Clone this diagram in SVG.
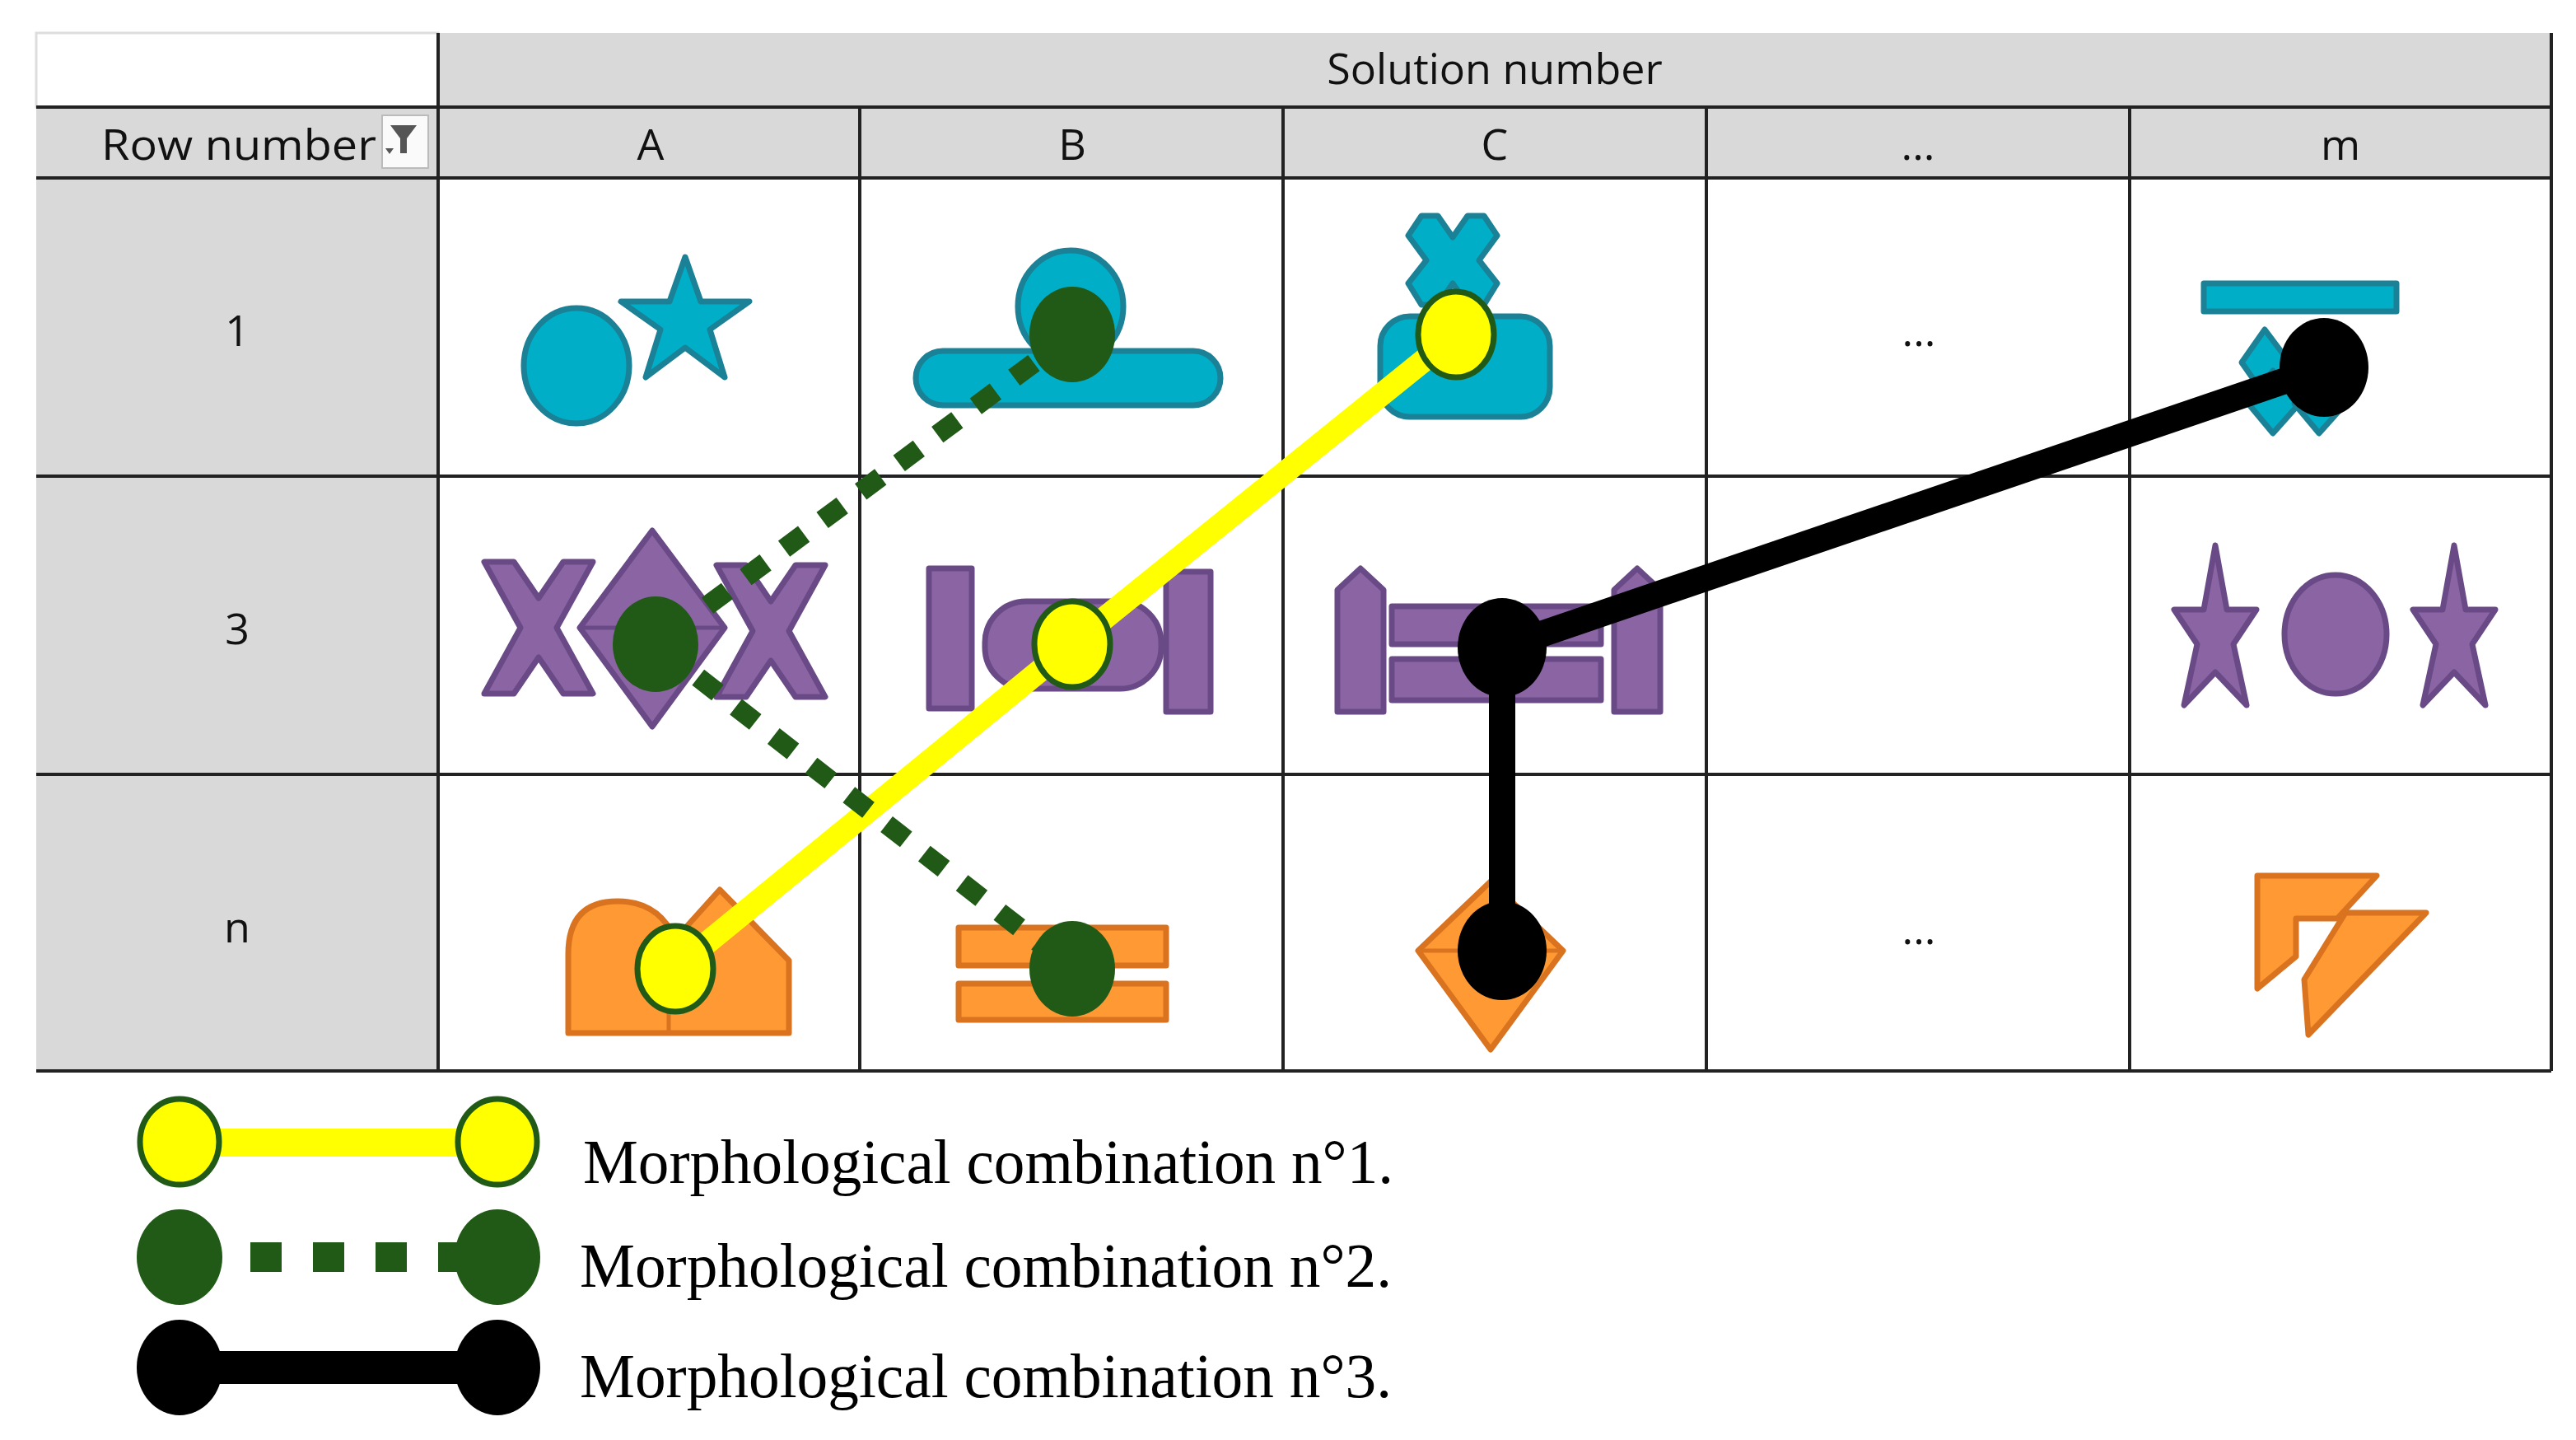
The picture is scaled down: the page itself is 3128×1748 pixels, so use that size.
<svg xmlns="http://www.w3.org/2000/svg" width="3128" height="1748" viewBox="0 0 3128 1748">
<style>
.hd{font-family:"Open Sans","Liberation Sans",sans-serif;font-size:52px;fill:#111;text-anchor:middle}
.lg{font-family:"Liberation Serif",serif;font-size:76px;fill:#000}
.teal{fill:#00AEC7;stroke:#1A8196;stroke-width:7;stroke-linejoin:round}
.pur{fill:#8B64A4;stroke:#6A4A86;stroke-width:7;stroke-linejoin:round}
.org{fill:#FF9933;stroke:#D9731F;stroke-width:7;stroke-linejoin:round}
.grid{stroke:#222;stroke-width:4}
.ylw{fill:#FFFF00;stroke:#215A17;stroke-width:7}
.grn{fill:#215A17}
.blk{fill:#000}
</style>
<rect width="3128" height="1748" fill="#fff"/>
<g id="table">
<rect x="532" y="40" width="2566" height="90" fill="#D9D9D9"/>
<rect x="44" y="130" width="3054" height="86" fill="#D9D9D9"/>
<rect x="44" y="216" width="488" height="1084" fill="#D9D9D9"/>
<rect x="44" y="40" width="488" height="90" fill="#fff" stroke="#ddd" stroke-width="3"/>
<g class="grid">
<line x1="44" y1="130" x2="3098" y2="130"/><line x1="44" y1="216" x2="3098" y2="216"/>
<line x1="44" y1="578" x2="3098" y2="578"/><line x1="44" y1="940" x2="3098" y2="940"/>
<line x1="44" y1="1300" x2="3098" y2="1300"/>
<line x1="532" y1="40" x2="532" y2="1300"/><line x1="1044" y1="130" x2="1044" y2="1300"/>
<line x1="1558" y1="130" x2="1558" y2="1300"/><line x1="2072" y1="130" x2="2072" y2="1300"/>
<line x1="2586" y1="130" x2="2586" y2="1300"/><line x1="3098" y1="40" x2="3098" y2="1300"/>
</g>
<text class="hd" x="1815" y="102">Solution number</text>
<text class="hd" x="290" y="194" textLength="334" lengthAdjust="spacingAndGlyphs">Row number</text>
<g id="filter"><rect x="464" y="140" width="56" height="64" fill="#fafafa" stroke="#bbb" stroke-width="2"/><path d="M474,152 H506 L494,168 V186 H486 V168 Z" fill="#555"/><path d="M468,180 h10 l-5,7z" fill="#555"/></g>
<text class="hd" x="790" y="194">A</text><text class="hd" x="1302" y="194">B</text>
<text class="hd" x="1815" y="194">C</text><text class="hd" x="2329" y="194">...</text>
<text class="hd" x="2842" y="194">m</text>
<text class="hd" x="288" y="420">1</text><text class="hd" x="288" y="782">3</text><text class="hd" x="288" y="1144">n</text>
<text class="hd" x="2330" y="420">...</text><text class="hd" x="2330" y="1146">...</text>
</g>
<g id="shapes">
<ellipse class="teal" cx="700" cy="444" rx="64" ry="70"/>
<polygon class="teal" points="832,312 851,366 910,366 862,400 880,458 832,422 784,458 802,400 754,366 813,366"/>
<ellipse class="teal" cx="1300" cy="372" rx="64" ry="68"/>
<rect class="teal" x="1112" y="426" width="370" height="66" rx="33"/>
<path class="teal" d="M1726,262 L1746,262 L1764,288 L1782,262 L1802,262 L1818,286 L1796,316 L1818,344 L1802,370 L1782,370 L1764,344 L1746,370 L1726,370 L1710,344 L1732,316 L1710,286 Z"/>
<rect class="teal" x="1676" y="384" width="206" height="122" rx="36"/>
<rect class="teal" x="2676" y="344" width="234" height="34"/>
<polygon class="teal" points="2750,400 2780,440 2750,480 2722,440"/>
<polygon class="teal" points="2760,450 2792,490 2760,526 2730,490"/>
<polygon class="teal" points="2816,450 2848,490 2816,526 2786,490"/>
<polygon class="pur" points="588,682 624,682 654,726 684,682 720,682 676,762 720,842 684,842 654,798 624,842 588,842 632,762"/>
<polygon class="pur" points="870,686 906,686 936,730 966,686 1002,686 958,766 1002,846 966,846 936,802 906,846 870,846 914,766"/>
<polygon class="pur" points="792,644 880,762 792,882 704,762"/>
<line x1="704" y1="762" x2="880" y2="762" stroke="#6A4A86" stroke-width="5"/>
<rect class="pur" x="1128" y="690" width="52" height="170"/>
<rect class="pur" x="1416" y="694" width="54" height="170"/>
<rect class="pur" x="1196" y="730" width="214" height="106" rx="50"/>
<polygon class="pur" points="1624,864 1624,716 1652,690 1680,716 1680,864"/>
<polygon class="pur" points="1960,864 1960,716 1988,690 2016,716 2016,864"/>
<rect class="pur" x="1690" y="736" width="254" height="46"/>
<rect class="pur" x="1690" y="800" width="254" height="50"/>
<polygon class="pur" points="2690,662 2704,740 2740,740 2712,782 2728,856 2690,816 2652,856 2668,782 2640,740 2676,740"/>
<ellipse class="pur" cx="2836" cy="770" rx="62" ry="72"/>
<polygon class="pur" points="2980,662 2994,740 3030,740 3002,782 3018,856 2980,816 2942,856 2958,782 2930,740 2966,740"/>
<path class="org" d="M690,1254 V1158 Q690,1094 750,1094 Q800,1094 820,1140 L874,1080 L958,1166 V1254 Z"/>
<line x1="812" y1="1210" x2="812" y2="1254" stroke="#D9731F" stroke-width="5"/>
<rect class="org" x="1164" y="1126" width="252" height="46"/>
<rect class="org" x="1164" y="1194" width="252" height="44"/>
<polygon class="org" points="1810,1070 1898,1154 1810,1274 1722,1154"/>
<line x1="1722" y1="1154" x2="1898" y2="1154" stroke="#D9731F" stroke-width="5"/>
<polygon class="org" points="2741,1063 2886,1063 2838,1115 2788,1115 2788,1161 2741,1200"/>
<polygon class="org" points="2848,1108 2946,1108 2803,1256 2798,1189"/>
</g>
<g id="connectors" fill="none">
<polyline points="820,1176 1302,782 1768,406" stroke="#FFFF00" stroke-width="28"/>
<polyline points="1302,406 796,782 1302,1176" stroke="#215A17" stroke-width="24" stroke-dasharray="30 28"/>
<polyline points="2822,446 1824,786 1824,1154" stroke="#000" stroke-width="32" stroke-linejoin="round"/>
</g>
<g id="markers">
<ellipse class="ylw" cx="820" cy="1176" rx="46" ry="52"/>
<ellipse class="ylw" cx="1302" cy="782" rx="46" ry="52"/>
<ellipse class="ylw" cx="1768" cy="406" rx="46" ry="52"/>
<ellipse class="grn" cx="1302" cy="406" rx="52" ry="58"/>
<ellipse class="grn" cx="796" cy="782" rx="52" ry="58"/>
<ellipse class="grn" cx="1302" cy="1176" rx="52" ry="58"/>
<ellipse class="blk" cx="2822" cy="446" rx="54" ry="60"/>
<ellipse class="blk" cx="1824" cy="786" rx="54" ry="60"/>
<ellipse class="blk" cx="1824" cy="1154" rx="54" ry="60"/>
</g>
<g id="legend">
<rect x="218" y="1370" width="386" height="34" fill="#FFFF00"/>
<ellipse class="ylw" cx="218" cy="1386" rx="48" ry="52"/>
<ellipse class="ylw" cx="604" cy="1386" rx="48" ry="52"/>
<text class="lg" x="708" y="1436" textLength="984" lengthAdjust="spacingAndGlyphs">Morphological combination n°1.</text>
<line x1="218" y1="1526" x2="604" y2="1526" stroke="#215A17" stroke-width="36" stroke-dasharray="38 38" stroke-dashoffset="-10"/>
<ellipse class="grn" cx="218" cy="1526" rx="52" ry="58"/>
<ellipse class="grn" cx="604" cy="1526" rx="52" ry="58"/>
<text class="lg" x="704" y="1562" textLength="986" lengthAdjust="spacingAndGlyphs">Morphological combination n°2.</text>
<line x1="218" y1="1660" x2="604" y2="1660" stroke="#000" stroke-width="40"/>
<ellipse class="blk" cx="218" cy="1660" rx="52" ry="58"/>
<ellipse class="blk" cx="604" cy="1660" rx="52" ry="58"/>
<text class="lg" x="704" y="1696" textLength="986" lengthAdjust="spacingAndGlyphs">Morphological combination n°3.</text>
</g>
</svg>
